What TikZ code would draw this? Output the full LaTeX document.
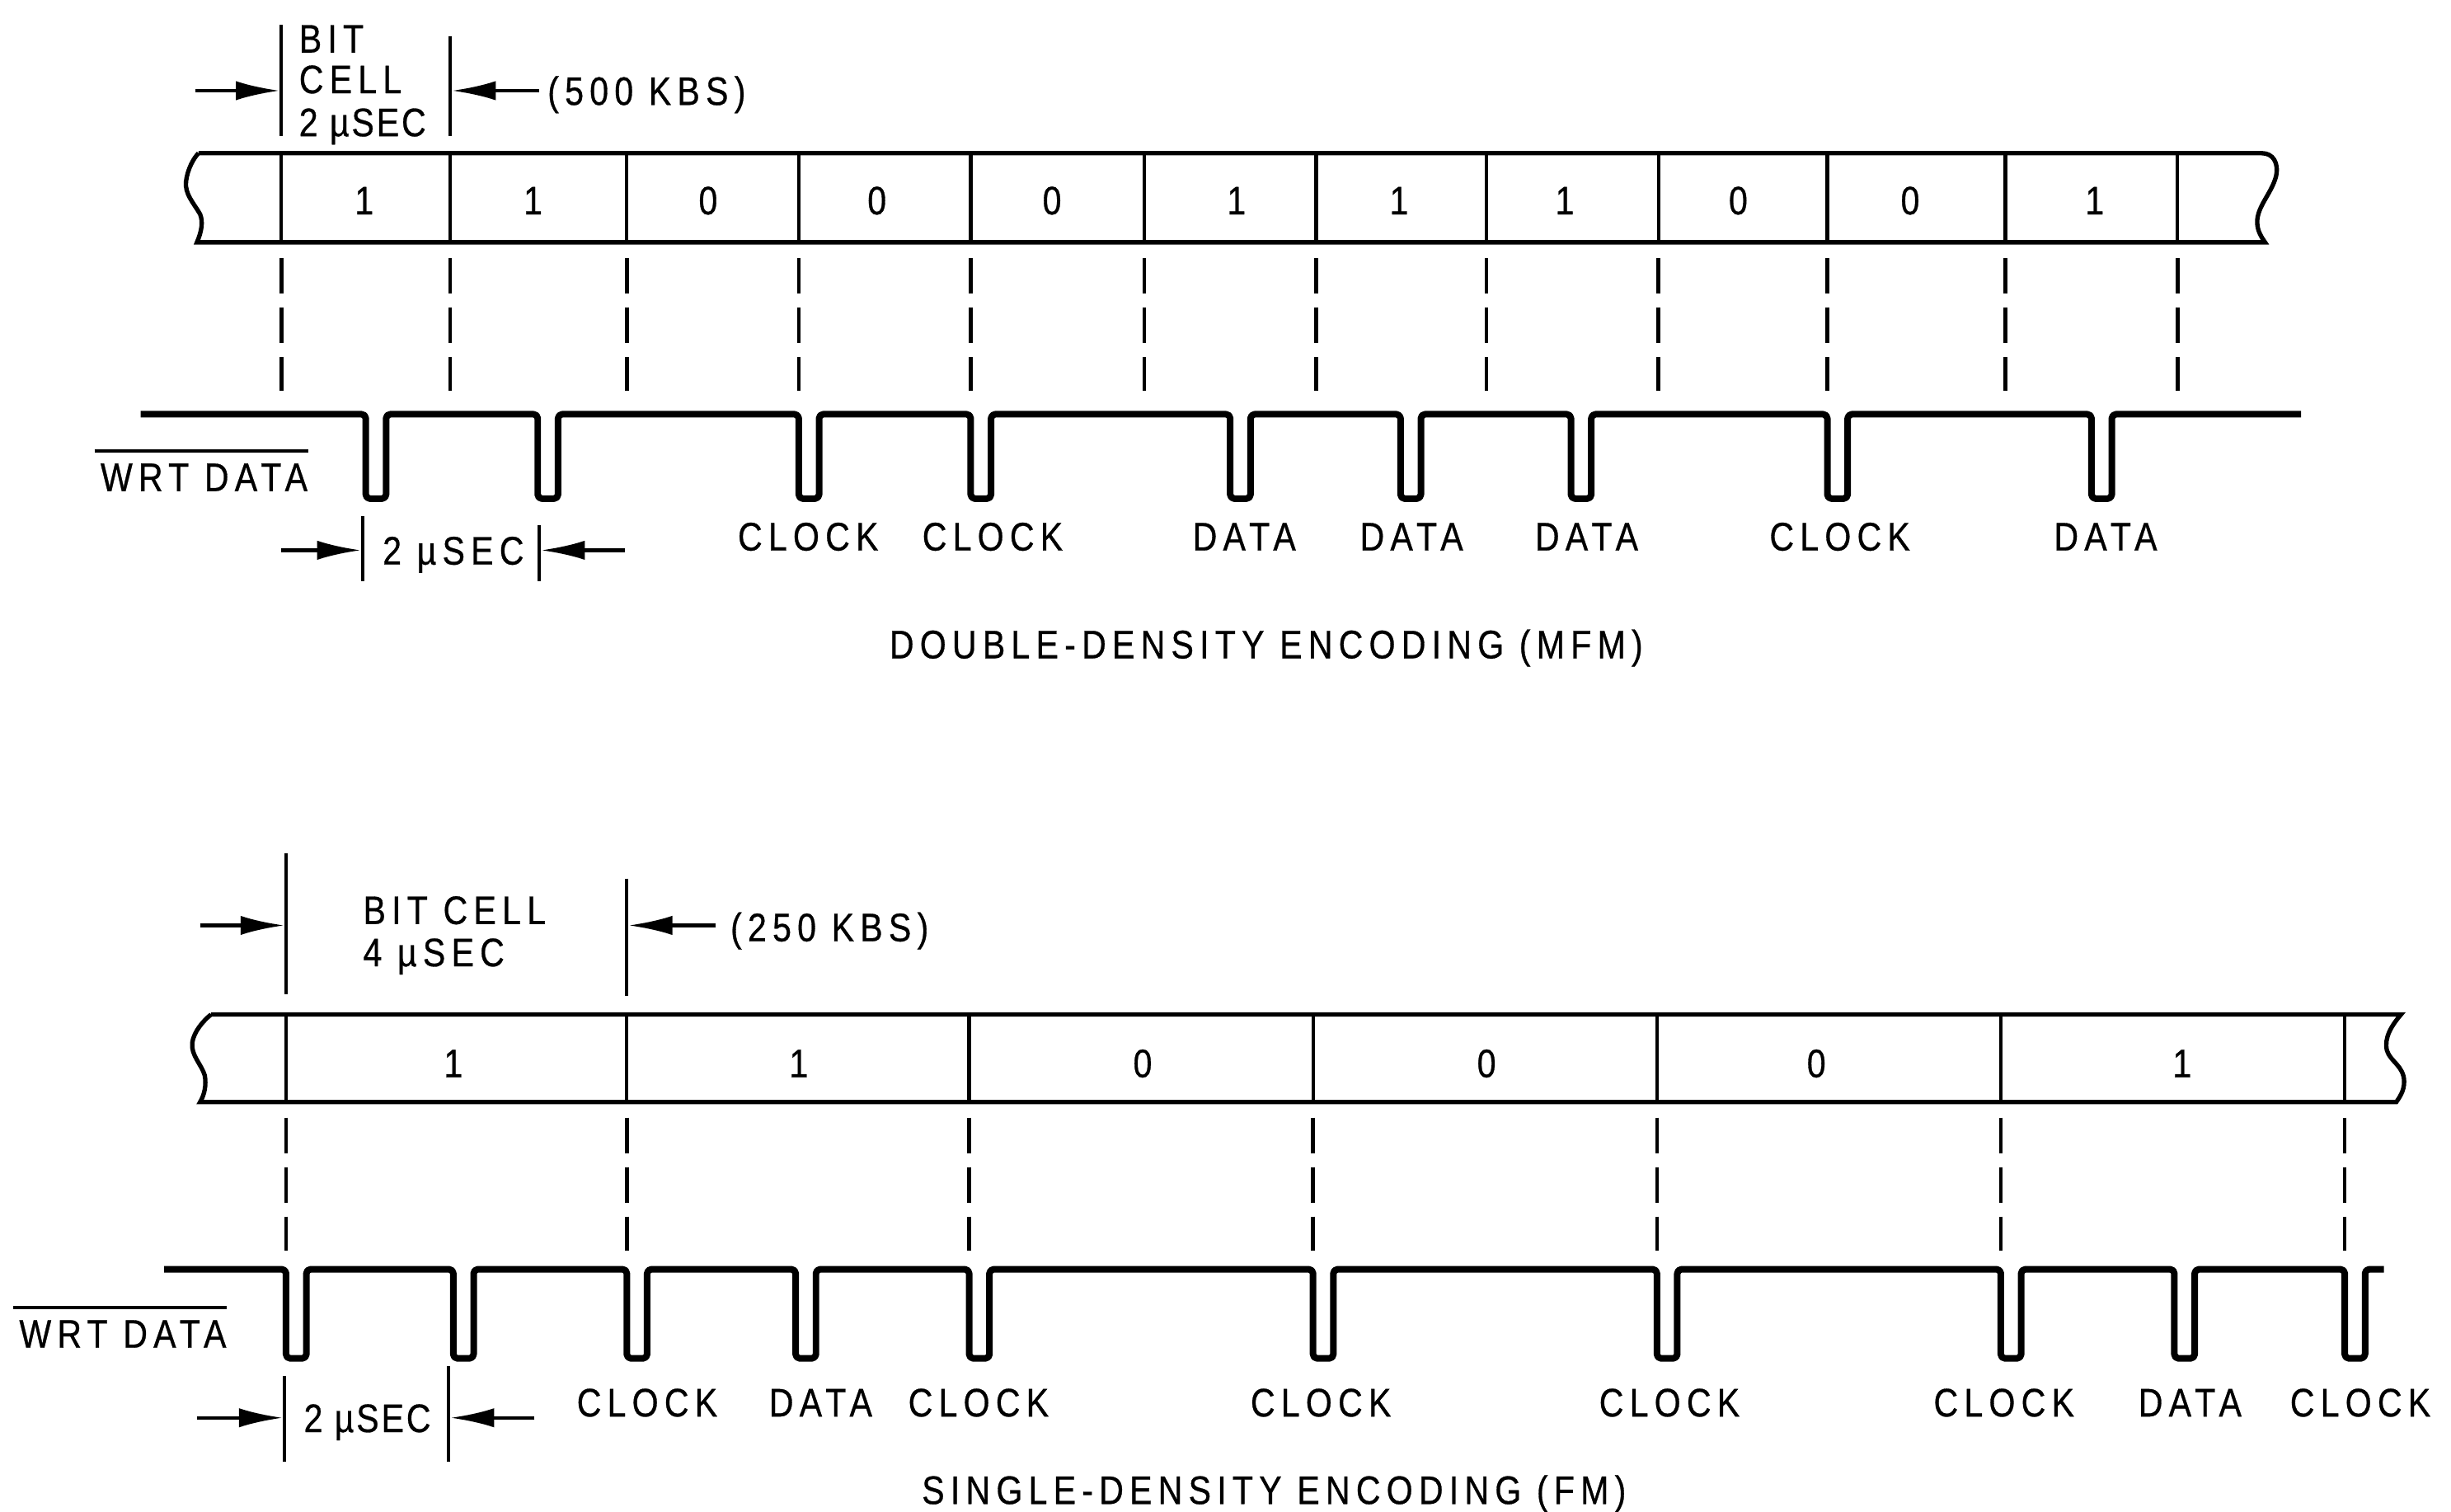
\documentclass[tikz,border=0pt]{standalone}
\usepackage{fontspec}
\setmainfont{Liberation Sans}[FakeStretch=0.85,LetterSpace=15,FakeBold=0.6]
\newcommand{\tightsp}{\addfontfeature{LetterSpace=6}}
\usetikzlibrary{arrows.meta}
\begin{document}
\begin{tikzpicture}[x=0.02cm,y=-0.02cm,
  font=\fontsize{14.5}{16}\selectfont,
  tape/.style={line width=1.6pt},
  celldiv/.style={line width=1.3pt},
  guide/.style={line width=1.4pt, dash pattern=on 13pt off 5pt},
  wave/.style={line width=2.4pt, rounded corners=1.5pt, line join=round},
  dimbar/.style={line width=1.1pt},
  dimarrow/.style={line width=1.3pt, -{Latex[length=16pt,width=7pt]}},
  lbl/.style={inner sep=0pt, text height=10.4pt, text depth=0pt},
  ]
\useasboundingbox (0,0) rectangle (1568,967);

% ================= TOP: DOUBLE DENSITY =================
% bit cell annotation
\coordinate (tA1) at (180,16);  \coordinate (tA2) at (180,87);
\coordinate (tB1) at (288,23);  \coordinate (tB2) at (288,87);
\draw[dimbar] (tA1) -- (tA2);
\draw[dimbar] (tB1) -- (tB2);
\coordinate (tAL) at (125,58); \coordinate (tAR) at (179,58);
\coordinate (tBR) at (345,58); \coordinate (tBL) at (289,58);
\draw[dimarrow] (tAL) -- (tAR);
\draw[dimarrow] (tBR) -- (tBL);
\node[lbl, anchor=west] (tbit)  at (191,24.5) {BIT};
\node[lbl, anchor=west] (tcell) at (191,50.5) {CELL};
\node[lbl, anchor=west] (tusec) at (191,78) {\tightsp 2 µSEC};
\node[lbl, anchor=west] (tkbs)  at (350,58) {(500 KBS)};

% tape
\draw[tape] (127,98) -- (1447,98)
  .. controls (1454,98) and (1458,104) .. (1456,113)
  .. controls (1453,124) and (1444,132) .. (1444,142)
  .. controls (1444,148) and (1447,152) .. (1449,155)
  -- (126,155)
  .. controls (129,148) and (130,142) .. (128,137)
  .. controls (124,130) and (118,124) .. (119,116)
  .. controls (120,108) and (124,101) .. (127,98);
\foreach \x [count=\i] in {180,288,401,511,621,732,842,951,1061,1169,1283,1393}{
  \coordinate (tcu\i) at (\x,98); \coordinate (tcd\i) at (\x,155);
  \draw[celldiv] (tcu\i) -- (tcd\i);
  \coordinate (tgu\i) at (\x,165); \coordinate (tgd\i) at (\x,250);
  \draw[guide] (tgu\i) -- (tgd\i);
}
\foreach \x/\b [count=\i] in {233/1,341/1,453/0,561/0,673/0,791/1,895/1,1001/1,1112/0,1222/0,1340/1}
  \node[lbl] (tdig\i) at (\x,128) {\b};

% waveform
\coordinate (twS) at (90,265); \coordinate (twE) at (1472,265);
\draw[wave] (twS)
  \foreach \p in {234,344,511,621,787,896,1005,1169,1338}{
    -- (\p,265) -- (\p,319) -- ({\p+13},319) -- ({\p+13},265) }
  -- (twE);
\foreach \x/\t [count=\i] in {517/CLOCK,635/CLOCK,796/DATA,903/DATA,1015/DATA,1177/CLOCK,1347/DATA}
  \node[lbl] (tlab\i) at (\x,343) {\t};

\node[lbl, anchor=west] (twrt) at (64,305) {WRT DATA};
\draw[dimbar] ([shift={(-2pt,4pt)}]twrt.north west) -- ([shift={(0pt,4pt)}]twrt.north east);

% 2 usec dimension
\coordinate (tdA1) at (232,330); \coordinate (tdA2) at (232,372);
\coordinate (tdB1) at (345,336); \coordinate (tdB2) at (345,372);
\draw[dimbar] (tdA1) -- (tdA2);
\draw[dimbar] (tdB1) -- (tdB2);
\coordinate (tdL) at (180,352); \coordinate (tdLe) at (231,352);
\coordinate (tdR) at (400,352); \coordinate (tdRe) at (346,352);
\draw[dimarrow] (tdL) -- (tdLe);
\draw[dimarrow] (tdR) -- (tdRe);
\node[lbl] (tdtxt) at (290,352) {2 µSEC};

\node[lbl] (ttitle) at (810,412) {DOUBLE-DENSITY ENCODING (MFM)};

% ================= BOTTOM: SINGLE DENSITY =================
\coordinate (bA1) at (183,546); \coordinate (bA2) at (183,636);
\coordinate (bB1) at (401,562); \coordinate (bB2) at (401,637);
\draw[dimbar] (bA1) -- (bA2);
\draw[dimbar] (bB1) -- (bB2);
\coordinate (bAL) at (128,592); \coordinate (bAR) at (182,592);
\coordinate (bBR) at (458,592); \coordinate (bBL) at (402,592);
\draw[dimarrow] (bAL) -- (bAR);
\draw[dimarrow] (bBR) -- (bBL);
\node[lbl, anchor=west] (bbit)  at (232,582) {BIT CELL};
\node[lbl, anchor=west] (busec) at (232,609) {4 µSEC};
\node[lbl, anchor=west] (bkbs)  at (467,593) {(250 KBS)};

% tape
\draw[tape] (135,649) -- (1536,649)
  .. controls (1530,656) and (1525,664) .. (1527,672)
  .. controls (1529,679) and (1538,682) .. (1538,692)
  .. controls (1538,698) and (1535,702) .. (1533,705)
  -- (128,705)
  .. controls (131,700) and (132,694) .. (131,688)
  .. controls (129,681) and (122,675) .. (123,667)
  .. controls (124,660) and (130,653) .. (135,649);
\foreach \x [count=\i] in {183,401,620,840,1060,1280,1500}{
  \coordinate (bcu\i) at (\x,649); \coordinate (bcd\i) at (\x,705);
  \draw[celldiv] (bcu\i) -- (bcd\i);
  \coordinate (bgu\i) at (\x,715); \coordinate (bgd\i) at (\x,800);
  \draw[guide] (bgu\i) -- (bgd\i);
}
\foreach \x/\b [count=\i] in {290/1,511/1,731/0,951/0,1162/0,1396/1}
  \node[lbl] (bdig\i) at (\x,680) {\b};

% waveform
\coordinate (bwS) at (105,812); \coordinate (bwE) at (1525,812);
\draw[wave] (bwS)
  \foreach \p in {183,290,401,509,620,840,1060,1280,1391,1500}{
    -- (\p,812) -- (\p,869) -- ({\p+13},869) -- ({\p+13},812) }
  -- (bwE);
\foreach \x/\t [count=\i] in {414/CLOCK,525/DATA,626/CLOCK,845/CLOCK,1068/CLOCK,1282/CLOCK,1401/DATA,1510/CLOCK}
  \node[lbl] (blab\i) at (\x,897) {\t};

\node[lbl, anchor=west] (bwrt) at (12,853) {WRT DATA};
\draw[dimbar] ([shift={(-2pt,4pt)}]bwrt.north west) -- ([shift={(0pt,4pt)}]bwrt.north east);

% 2 usec dimension
\coordinate (bdA1) at (182,880); \coordinate (bdA2) at (182,935);
\coordinate (bdB1) at (287,874); \coordinate (bdB2) at (287,935);
\draw[dimbar] (bdA1) -- (bdA2);
\draw[dimbar] (bdB1) -- (bdB2);
\coordinate (bdL) at (126,907); \coordinate (bdLe) at (181,907);
\coordinate (bdR) at (342,907); \coordinate (bdRe) at (288,907);
\draw[dimarrow] (bdL) -- (bdLe);
\draw[dimarrow] (bdR) -- (bdRe);
\node[lbl] (bdtxt) at (235,907) {\tightsp 2 µSEC};

\node[lbl] (btitle) at (815,953) {SINGLE-DENSITY ENCODING (FM)};
\end{tikzpicture}
\end{document}
